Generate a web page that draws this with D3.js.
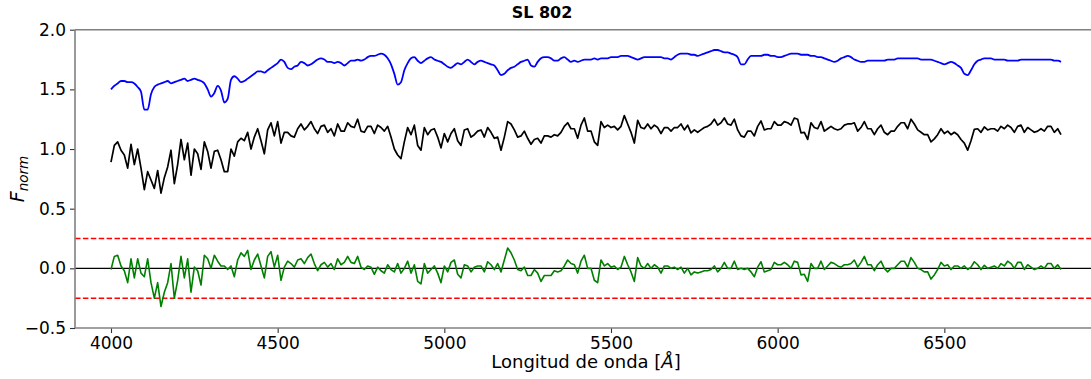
<!DOCTYPE html>
<html>
<head>
<meta charset="utf-8">
<script src="https://cdn.jsdelivr.net/npm/d3@7"></script>
<style>
  html, body { margin: 0; padding: 0; background: #fff; }
  svg { display: block; font-family: "DejaVu Sans", sans-serif; }
</style>
</head>
<body>
<svg id="chart" width="1091" height="379"></svg>
<script>
// ---- Data ----
const title = "SL 802";
const waveStart = 4000, waveEnd = 6850, waveStep = 10;   // Å sampling grid
const xTicks = [4000, 4500, 5000, 5500, 6000, 6500];
const yTicks = [-0.5, 0.0, 0.5, 1.0, 1.5, 2.0];
const thresholds = [0.25, -0.25];

// Model spectrum (offset), blue
const modelFlux = [
  1.50,1.53,1.55,1.57,1.57,1.56,1.56,1.55,1.52,1.48,
  1.33,1.33,1.46,1.52,1.54,1.55,1.56,1.57,1.55,1.56,
  1.57,1.58,1.59,1.57,1.58,1.59,1.58,1.57,1.55,1.50,
  1.44,1.47,1.53,1.49,1.39,1.42,1.58,1.61,1.59,1.56,
  1.57,1.59,1.61,1.63,1.65,1.65,1.64,1.66,1.68,1.70,
  1.72,1.75,1.73,1.68,1.67,1.69,1.70,1.73,1.72,1.70,
  1.71,1.73,1.75,1.76,1.75,1.73,1.73,1.72,1.73,1.72,
  1.70,1.72,1.74,1.74,1.75,1.74,1.75,1.77,1.78,1.78,
  1.79,1.80,1.79,1.76,1.71,1.63,1.54,1.56,1.66,1.72,
  1.76,1.77,1.74,1.72,1.74,1.76,1.77,1.75,1.74,1.73,
  1.71,1.69,1.68,1.70,1.72,1.71,1.73,1.75,1.73,1.71,
  1.73,1.74,1.73,1.72,1.71,1.70,1.66,1.62,1.63,1.66,
  1.68,1.69,1.71,1.73,1.74,1.75,1.70,1.69,1.73,1.76,
  1.77,1.77,1.76,1.74,1.74,1.76,1.77,1.75,1.73,1.74,
  1.73,1.74,1.75,1.75,1.75,1.76,1.75,1.76,1.76,1.76,
  1.77,1.77,1.77,1.78,1.78,1.78,1.77,1.76,1.75,1.76,
  1.77,1.77,1.77,1.77,1.77,1.77,1.76,1.76,1.75,1.77,
  1.79,1.80,1.80,1.80,1.79,1.79,1.78,1.79,1.80,1.81,
  1.82,1.83,1.83,1.82,1.81,1.81,1.80,1.79,1.77,1.71,
  1.71,1.75,1.78,1.78,1.78,1.78,1.79,1.79,1.78,1.78,
  1.77,1.77,1.78,1.79,1.80,1.80,1.80,1.79,1.79,1.79,
  1.78,1.78,1.77,1.77,1.76,1.75,1.74,1.73,1.74,1.76,
  1.77,1.78,1.77,1.75,1.74,1.73,1.73,1.74,1.74,1.74,
  1.74,1.74,1.74,1.75,1.75,1.75,1.76,1.76,1.76,1.76,
  1.76,1.76,1.76,1.75,1.75,1.75,1.75,1.74,1.73,1.72,
  1.71,1.72,1.73,1.72,1.70,1.68,1.63,1.62,1.66,1.71,
  1.74,1.75,1.76,1.76,1.76,1.75,1.75,1.75,1.75,1.74,
  1.74,1.74,1.74,1.75,1.75,1.75,1.75,1.75,1.75,1.75,
  1.75,1.75,1.75,1.74,1.74,1.73
];

// Observed spectrum, black
const observedFlux = [
  0.89,1.03,1.06,0.99,0.95,0.84,1.04,0.87,1.00,0.84,
  0.66,0.81,0.74,0.67,0.82,0.63,0.76,0.85,0.99,0.71,
  0.87,1.08,0.91,1.05,0.78,1.00,0.96,0.83,1.06,0.98,
  0.84,0.98,0.99,0.91,0.81,0.81,1.00,0.94,1.06,1.09,
  1.07,1.14,1.00,1.10,1.17,1.07,0.96,1.16,1.22,1.11,
  1.23,1.05,1.14,1.14,1.11,1.10,1.17,1.21,1.16,1.19,
  1.23,1.17,1.13,1.19,1.20,1.14,1.17,1.11,1.21,1.15,
  1.15,1.22,1.19,1.18,1.25,1.15,1.14,1.19,1.19,1.13,
  1.20,1.18,1.15,1.19,1.10,1.00,0.95,0.92,1.06,1.18,
  1.12,1.20,1.03,0.99,1.18,1.12,1.16,1.17,1.10,1.01,
  1.13,1.06,1.13,1.17,1.07,1.03,1.16,1.17,1.10,1.12,
  1.15,1.16,1.10,1.18,1.14,1.09,1.10,0.99,1.10,1.23,
  1.21,1.16,1.10,1.11,1.15,1.09,1.04,1.08,1.09,1.05,
  1.11,1.11,1.10,1.12,1.11,1.14,1.19,1.22,1.17,1.17,
  1.09,1.20,1.26,1.15,1.15,1.06,1.03,1.23,1.18,1.20,
  1.18,1.19,1.16,1.19,1.28,1.21,1.14,1.05,1.24,1.18,
  1.17,1.21,1.17,1.20,1.18,1.13,1.18,1.18,1.15,1.18,
  1.18,1.21,1.16,1.20,1.135,1.16,1.14,1.16,1.18,1.19,
  1.21,1.25,1.20,1.22,1.26,1.21,1.20,1.25,1.16,1.11,
  1.10,1.15,1.15,1.11,1.19,1.235,1.16,1.17,1.17,1.23,
  1.20,1.20,1.23,1.22,1.20,1.26,1.25,1.135,1.14,1.08,
  1.22,1.18,1.17,1.23,1.15,1.17,1.19,1.17,1.16,1.17,
  1.20,1.21,1.21,1.22,1.15,1.18,1.23,1.17,1.17,1.12,
  1.17,1.20,1.14,1.12,1.15,1.15,1.19,1.22,1.22,1.17,
  1.25,1.21,1.16,1.14,1.12,1.12,1.06,1.085,1.12,1.17,
  1.13,1.15,1.12,1.14,1.12,1.08,1.05,0.99,1.07,1.165,
  1.17,1.14,1.185,1.16,1.17,1.17,1.15,1.19,1.17,1.20,
  1.18,1.14,1.19,1.20,1.14,1.18,1.16,1.14,1.15,1.17,
  1.15,1.19,1.19,1.14,1.17,1.12
];

// Residuals, green
const residualFlux = [
  -0.01,0.10,0.11,0.02,-0.02,-0.12,0.08,-0.08,0.08,-0.04,
  -0.07,0.08,-0.12,-0.25,-0.12,-0.32,-0.20,-0.12,0.04,-0.25,
  -0.10,0.10,-0.08,0.08,-0.20,0.01,-0.02,-0.14,0.11,0.08,
  0.00,0.11,0.06,0.02,0.02,-0.01,0.02,-0.07,0.07,0.13,
  0.10,0.15,-0.01,0.07,0.12,0.02,-0.08,0.10,0.14,0.01,
  0.11,-0.10,0.01,0.06,0.04,0.01,0.07,0.08,0.04,0.09,
  0.12,0.04,-0.02,0.03,0.05,0.01,0.04,-0.01,0.08,0.03,
  0.05,0.10,0.05,0.04,0.10,0.01,-0.01,0.02,0.01,-0.05,
  0.01,-0.02,-0.04,0.03,-0.01,-0.03,0.04,-0.04,0.00,0.06,
  -0.04,0.03,-0.11,-0.13,0.04,-0.04,-0.01,0.02,-0.04,-0.12,
  0.02,-0.03,0.05,0.07,-0.05,-0.08,0.03,0.02,-0.03,0.01,
  0.02,0.02,-0.03,0.055,0.03,-0.01,0.04,-0.03,0.07,0.17,
  0.13,0.07,-0.01,-0.02,0.01,-0.06,-0.06,-0.01,-0.04,-0.11,
  -0.06,-0.06,-0.06,-0.02,-0.03,-0.02,0.02,0.07,0.04,0.03,
  -0.04,0.06,0.11,0.00,0.00,-0.10,-0.12,0.07,0.02,0.04,
  0.01,0.02,-0.01,0.01,0.10,0.03,-0.03,-0.11,0.09,0.02,
  0.00,0.04,0.00,0.03,0.01,-0.04,0.02,0.02,0.00,0.01,
  -0.01,0.01,-0.04,0.00,-0.055,-0.03,-0.04,-0.03,-0.02,-0.02,
  -0.01,0.02,-0.03,0.00,0.05,0.00,0.00,0.06,-0.01,0.00,
  -0.01,0.00,-0.03,-0.07,0.01,0.055,-0.03,-0.02,-0.01,0.05,
  0.03,0.03,0.05,0.03,0.00,0.06,0.05,-0.055,-0.05,-0.11,
  0.04,0.00,0.00,0.06,-0.01,0.02,0.05,0.04,0.02,0.01,
  0.03,0.03,0.04,0.07,0.01,0.05,0.10,0.03,0.03,-0.02,
  0.03,0.06,0.00,-0.03,0.00,0.00,0.03,0.06,0.06,0.01,
  0.09,0.05,0.00,-0.01,-0.03,-0.03,-0.09,-0.055,-0.01,0.05,
  0.02,0.03,-0.01,0.02,0.02,0.00,0.02,-0.01,0.01,0.055,
  0.03,-0.01,0.025,0.00,0.01,0.02,0.00,0.04,0.02,0.06,
  0.04,0.00,0.05,0.05,-0.01,0.03,0.01,-0.01,0.00,0.02,
  0.00,0.04,0.04,0.00,0.03,-0.01
];

const wavelengths = d3.range(waveStart, waveEnd + 1, waveStep);

// ---- Layout ----
const svg = d3.select("#chart");
const plot = { left: 75, right: 1091, top: 29.7, bottom: 328 };

const x = d3.scaleLinear().domain([3892, 6940]).range([plot.left, plot.right]);
const y = d3.scaleLinear().domain([-0.5, 2.0]).range([plot.bottom, plot.top]);

const series = [
  { values: modelFlux, color: "#0000ff", width: 1.8, curve: d3.curveMonotoneX },
  { values: observedFlux, color: "#000000", width: 1.7, curve: d3.curveLinear },
  { values: residualFlux, color: "#008000", width: 1.6, curve: d3.curveLinear }
];

svg.append("defs").append("clipPath").attr("id", "clip")
  .append("rect").attr("x", plot.left).attr("y", plot.top)
  .attr("width", plot.right - plot.left).attr("height", plot.bottom - plot.top);

const g = svg.append("g").attr("clip-path", "url(#clip)");

// threshold lines
thresholds.forEach(t => {
  g.append("line")
    .attr("x1", plot.left).attr("x2", plot.right)
    .attr("y1", y(t)).attr("y2", y(t))
    .attr("stroke", "#ff0000").attr("stroke-width", 1.5)
    .attr("stroke-dasharray", "5.5,2.4");
});
// zero line
g.append("line")
  .attr("x1", plot.left).attr("x2", plot.right)
  .attr("y1", y(0)).attr("y2", y(0))
  .attr("stroke", "#000").attr("stroke-width", 1.2);

series.forEach(s => {
  const line = d3.line().curve(s.curve).x((d, i) => x(wavelengths[i])).y(d => y(d));
  g.append("path").datum(s.values)
    .attr("d", line)
    .attr("fill", "none")
    .attr("stroke", s.color)
    .attr("stroke-width", s.width)
    .attr("stroke-linejoin", "round");
});

// axes
const fmtY = d => (d < 0 ? "\u2212" : "") + Math.abs(d).toFixed(1);
const yAxis = svg.append("g").attr("transform", `translate(${plot.left},0)`)
  .call(d3.axisLeft(y).tickValues(yTicks).tickFormat(fmtY).tickSize(5).tickPadding(4));
const xAxis = svg.append("g").attr("transform", `translate(0,${plot.bottom})`)
  .call(d3.axisBottom(x).tickValues(xTicks).tickFormat(d3.format("d")).tickSize(5).tickPadding(4));
[yAxis, xAxis].forEach(a => {
  a.select(".domain").remove();
  a.selectAll("text").attr("font-size", 17).attr("font-family", "DejaVu Sans").attr("fill", "#000");
  a.selectAll("line").attr("stroke", "#333").attr("stroke-width", 1.1);
});

// spines
const spine = { stroke: "#808080", w: 1.6 };
svg.append("line").attr("x1", plot.left).attr("x2", plot.right).attr("y1", plot.top).attr("y2", plot.top)
  .attr("stroke", spine.stroke).attr("stroke-width", spine.w);
svg.append("line").attr("x1", plot.left).attr("x2", plot.right).attr("y1", plot.bottom).attr("y2", plot.bottom)
  .attr("stroke", spine.stroke).attr("stroke-width", spine.w);
svg.append("line").attr("x1", plot.left).attr("x2", plot.left).attr("y1", plot.top).attr("y2", plot.bottom)
  .attr("stroke", spine.stroke).attr("stroke-width", spine.w);

// title
svg.append("text").attr("x", 542).attr("y", 17.5).attr("text-anchor", "middle")
  .attr("font-size", 16).attr("font-weight", "bold").attr("fill", "#000").text(title);

// x label
const xl = svg.append("text").attr("x", 586).attr("y", 368).attr("text-anchor", "middle")
  .attr("font-size", 18).attr("fill", "#000");
xl.append("tspan").text("Longitud de onda [");
xl.append("tspan").attr("font-style", "italic").text("Å");
xl.append("tspan").text("]");

// y label
const yl = svg.append("text").attr("transform", "translate(24,179) rotate(-90)")
  .attr("text-anchor", "middle").attr("fill", "#000");
yl.append("tspan").attr("font-size", 19).attr("font-style", "italic").text("F");
yl.append("tspan").attr("font-size", 13.5).attr("font-style", "italic").attr("dy", 4).text("norm");
</script>
</body>
</html>
